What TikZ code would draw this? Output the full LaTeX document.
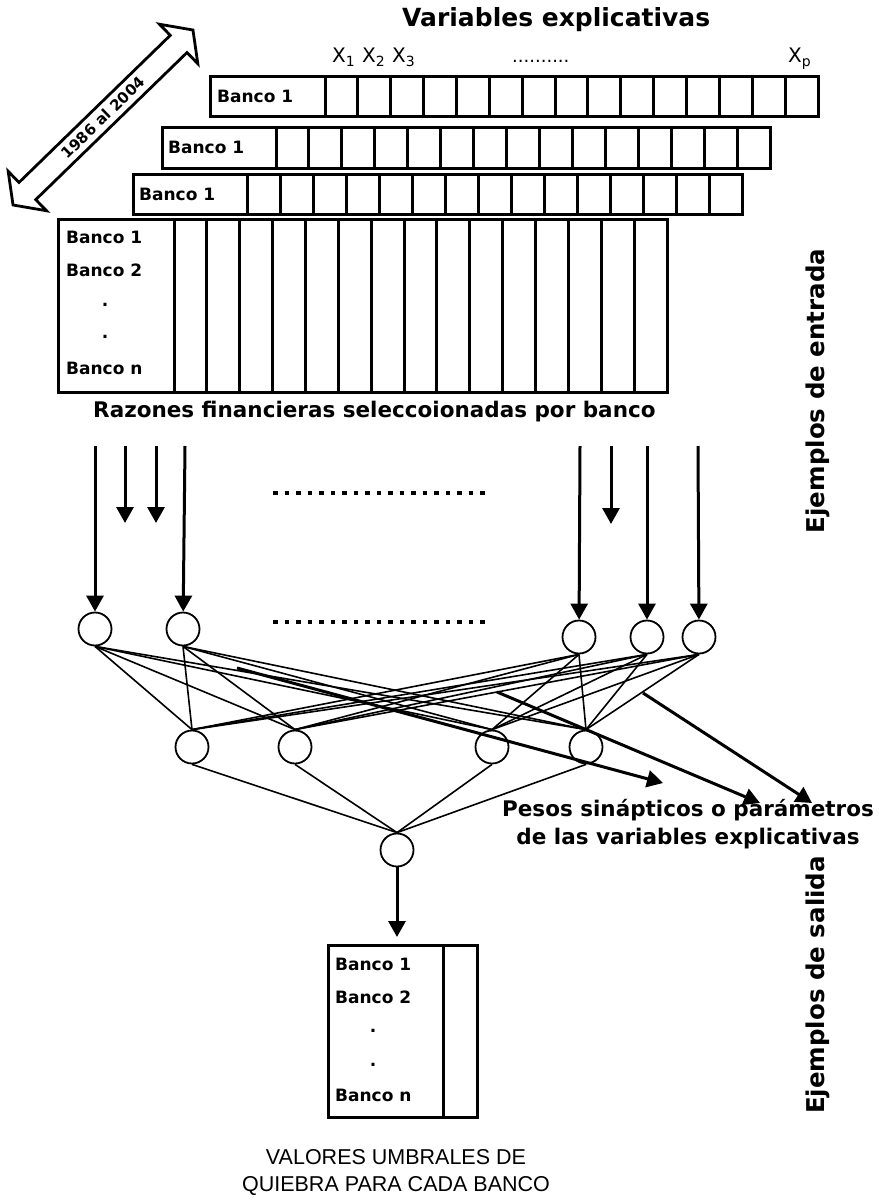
\documentclass[tikz,border=0pt]{standalone}
\usepackage{fontspec}
\setmainfont{DejaVu Sans}
\newfontfamily\arialf{Liberation Sans}
\usetikzlibrary{arrows.meta}
\begin{document}
\begin{tikzpicture}[x=1pt,y=-1pt,
  neuron/.style={circle,draw,line width=1.8pt,minimum size=33pt,inner sep=0pt},
  net/.style={line width=1.6pt},
  feed/.style={line width=3pt,-{Triangle[width=17pt,length=16pt]}},
  weight/.style={line width=3pt,-{Triangle[width=17pt,length=16pt]}},
  grid/.style={line width=3pt},
  lbl/.style={font=\bfseries\fontsize{17}{20}\selectfont,anchor=west,inner sep=0pt},
  dotc/.style={font=\bfseries\fontsize{17}{20}\selectfont,inner sep=0pt},
  xl/.style={font=\fontsize{20}{24}\selectfont,anchor=base west,inner sep=0pt},
  big/.style={font=\bfseries\fontsize{21.5}{28}\selectfont,inner sep=0pt},
  side/.style={font=\bfseries\fontsize{24.5}{28}\selectfont,inner sep=0pt,rotate=90},
  dotrow/.style={line width=4.5pt,dash pattern=on 4.5pt off 7pt},
]
\useasboundingbox (0,0) rectangle (878,1204);

% title and variable labels
\node[font=\bfseries\fontsize{25}{30}\selectfont,anchor=base west,inner sep=0pt] (title) at (402,27) {Variables explicativas};
\node[xl] (x1) at (332,63) {X\textsubscript{1}};
\node[xl] (x2) at (362,63) {X\textsubscript{2}};
\node[xl] (x3) at (392,63) {X\textsubscript{3}};
\node[xl,font=\fontsize{18}{22}\selectfont] (xdots) at (512,63) {..........};
\node[xl] (xp) at (788,63) {X\textsubscript{p}};

% time double arrow
\begin{scope}[shift={(103,117.5)},rotate=44.2]
  \draw[line width=2.8pt,line join=miter,fill=white]
    (-125.5,0) -- (-105.5,27.5) -- (-105.5,12) -- (105.5,12) -- (105.5,27.5)
    -- (125.5,0) -- (105.5,-27.5) -- (105.5,-12) -- (-105.5,-12) -- (-105.5,-27.5) -- cycle;
\end{scope}
\node[rotate=44.2,font=\bfseries\fontsize{15}{18}\selectfont,inner sep=0pt] (years) at (103,117.5) {1986 al 2004};

% row 1
\draw[grid,fill=white] (210,77) rectangle (818,117);
\foreach \k in {0,...,14} \draw[grid] ({325+\k*32.867},77) -- ++(0,40);
\node[lbl] (r1) at (217,96) {Banco 1};
% row 2
\draw[grid,fill=white] (162,128) rectangle (770,168);
\foreach \k in {0,...,14} \draw[grid] ({276+\k*32.93},128) -- ++(0,40);
\node[lbl] (r2) at (168,147) {Banco 1};
% row 3
\draw[grid,fill=white] (133,174) rectangle (742,214);
\foreach \k in {0,...,14} \draw[grid] ({247+\k*33},174) -- ++(0,40);
\node[lbl] (r3) at (139,194) {Banco 1};
% main input box
\draw[grid,fill=white] (58,219) rectangle (667,392);
\foreach \k in {0,...,14} \draw[grid] ({174+\k*32.867},219) -- ++(0,173);
\node[lbl] (m1) at (66,237) {Banco 1};
\node[lbl] (m2) at (66,270) {Banco 2};
\node[dotc] (md1) at (105,305) {.};
\node[dotc] (md2) at (105,337) {.};
\node[lbl] (mn) at (66,368) {Banco n};

\node[big,anchor=west] (razones) at (93,412) {Razones financieras seleccoionadas por banco};

\node[side] (entrada) at (818,391) {Ejemplos de entrada};
\node[side] (salida) at (818,985) {Ejemplos de salida};

% neurons
\node[neuron] (I1) at (95,629) {};
\node[neuron] (I2) at (183,629) {};
\node[neuron] (I3) at (579,637) {};
\node[neuron] (I4) at (647,637) {};
\node[neuron] (I5) at (699,637) {};
\node[neuron] (H1) at (192,747) {};
\node[neuron] (H2) at (295,747) {};
\node[neuron] (H3) at (492,747) {};
\node[neuron] (H4) at (586,747) {};
\node[neuron] (O) at (397,850) {};

% input arrows
\coordinate (a1) at (95,446);
\coordinate (a2) at (125,446); \coordinate (a2e) at (125,523);
\coordinate (a3) at (156,446); \coordinate (a3e) at (156,523);
\coordinate (a4) at (185,446);
\coordinate (a5) at (580,446);
\coordinate (a6) at (611,446); \coordinate (a6e) at (611,524);
\coordinate (a7) at (647,446);
\coordinate (a8) at (698,446);
\draw[feed] (a1) -- (I1);
\draw[feed] (a2) -- (a2e);
\draw[feed] (a3) -- (a3e);
\draw[feed] (a4) -- (I2);
\draw[feed] (a5) -- (I3);
\draw[feed] (a6) -- (a6e);
\draw[feed] (a7) -- (I4);
\draw[feed] (a8) -- (I5);

% dotted ellipsis lines
\coordinate (d1s) at (273,493); \coordinate (d1e) at (488,493);
\coordinate (d2s) at (273,622); \coordinate (d2e) at (488,622);
\draw[dotrow] (d1s) -- (d1e);
\draw[dotrow] (d2s) -- (d2e);

% network connections
\foreach \i in {I1,I2,I3,I4,I5}
  \foreach \h in {H1,H2,H3,H4}
    \draw[net] (\i.south) -- (\h.north);
\foreach \h in {H1,H2,H3,H4}
  \draw[net] (\h.south) -- (O.north);

% weights label
\node[big,align=center] (pesos) at (688,824) {Pesos sinápticos o parámetros\\de las variables explicativas};

% weight arrows
\coordinate (w1s) at (237,668); \coordinate (w1e) at (663,783);
\coordinate (w2s) at (497,692); \coordinate (w2e) at (760,803);
\coordinate (w3s) at (643,693); \coordinate (w3e) at (812,803);
\draw[weight] (w1s) -- (w1e);
\draw[weight] (w2s) -- (w2e);
\draw[weight] (w3s) -- (w3e);

% output
\coordinate (oa) at (397,937);
\draw[feed] (O) -- (oa);
\draw[grid,fill=white] (328,945) rectangle (477,1117);
\draw[grid] (443,945) -- (443,1117);
\node[lbl] (o1) at (335,964) {Banco 1};
\node[lbl] (o2) at (335,997) {Banco 2};
\node[dotc] (od1) at (373,1031) {.};
\node[dotc] (od2) at (373,1065) {.};
\node[lbl] (on) at (335,1095) {Banco n};

\node[font=\arialf\fontsize{21.5}{27}\selectfont,align=center,inner sep=0pt] (umbral) at (396,1173) {VALORES UMBRALES DE\\QUIEBRA PARA CADA BANCO};
\end{tikzpicture}
\end{document}
